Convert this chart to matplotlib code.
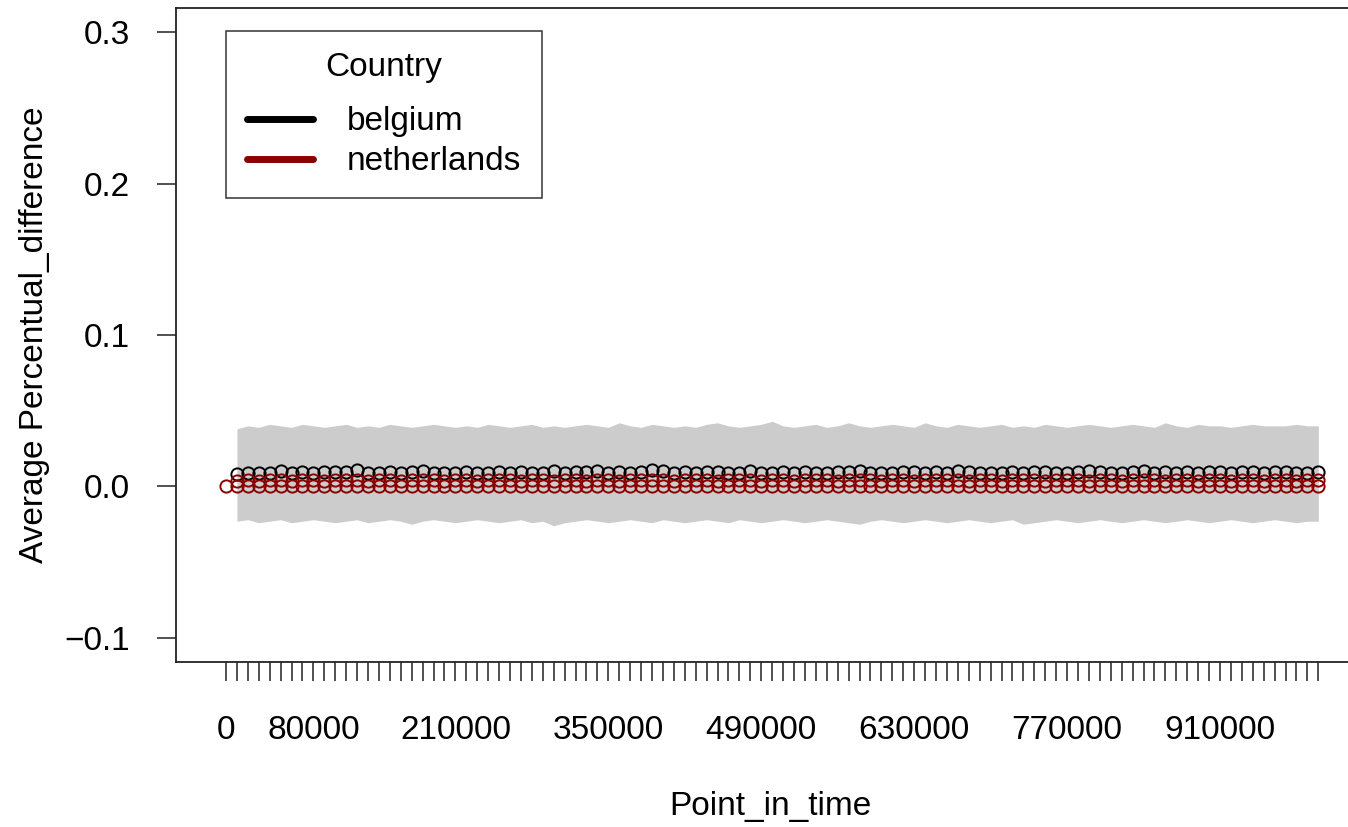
import numpy as np
import matplotlib
matplotlib.use("Agg")
import matplotlib.pyplot as plt
from matplotlib.lines import Line2D

plt.rcParams['font.family'] = ['Liberation Sans', 'DejaVu Sans']

# ---- data ----
time_points = list(range(0, 1000001, 10000))          # 101 points
band_x = time_points[1:]

belgium = [0.0085, 0.0088, 0.0086, 0.0090, 0.0102, 0.0087, 0.0098, 0.0089, 0.0095, 0.0096,
           0.0093, 0.0105, 0.0088, 0.0090, 0.0092, 0.0089, 0.0094, 0.0100, 0.0091, 0.0090,
           0.0088, 0.0092, 0.0090, 0.0089, 0.0093, 0.0091, 0.0096, 0.0090, 0.0088, 0.0099,
           0.0090, 0.0092, 0.0094, 0.0102, 0.0091, 0.0093, 0.0089, 0.0096, 0.0108, 0.0100,
           0.0090, 0.0092, 0.0088, 0.0094, 0.0096, 0.0091, 0.0090, 0.0100, 0.0091, 0.0089,
           0.0093, 0.0090, 0.0092, 0.0091, 0.0089, 0.0093, 0.0092, 0.0100, 0.0091, 0.0090,
           0.0089, 0.0094, 0.0096, 0.0090, 0.0092, 0.0091, 0.0102, 0.0098, 0.0091, 0.0089,
           0.0090, 0.0092, 0.0089, 0.0097, 0.0092, 0.0091, 0.0090, 0.0093, 0.0099, 0.0092,
           0.0091, 0.0090, 0.0094, 0.0101, 0.0091, 0.0092, 0.0089, 0.0096, 0.0090, 0.0093,
           0.0092, 0.0086, 0.0094, 0.0092, 0.0090, 0.0098, 0.0097, 0.0089, 0.0091, 0.0092]

netherlands = [0.0] * 101
netherlands_b = [0.0038, 0.0040, 0.0037, 0.0039, 0.0041, 0.0038, 0.0040, 0.0039, 0.0038, 0.0040,
                 0.0039, 0.0041, 0.0038, 0.0039, 0.0040, 0.0038, 0.0039, 0.0040, 0.0039, 0.0038,
                 0.0040, 0.0039, 0.0038, 0.0040, 0.0039, 0.0041, 0.0038, 0.0039, 0.0040, 0.0038,
                 0.0039, 0.0040, 0.0038, 0.0041, 0.0039, 0.0038, 0.0040, 0.0039, 0.0042, 0.0040,
                 0.0038, 0.0039, 0.0040, 0.0039, 0.0038, 0.0040, 0.0039, 0.0041, 0.0038, 0.0039,
                 0.0040, 0.0038, 0.0039, 0.0040, 0.0039, 0.0038, 0.0040, 0.0041, 0.0039, 0.0038,
                 0.0040, 0.0039, 0.0038, 0.0040, 0.0039, 0.0041, 0.0040, 0.0038, 0.0039, 0.0040,
                 0.0038, 0.0039, 0.0040, 0.0039, 0.0038, 0.0040, 0.0039, 0.0041, 0.0038, 0.0039,
                 0.0040, 0.0038, 0.0039, 0.0040, 0.0039, 0.0038, 0.0040, 0.0039, 0.0038, 0.0040,
                 0.0039, 0.0037, 0.0040, 0.0039, 0.0038, 0.0040, 0.0039, 0.0038, 0.0039, 0.0040]

band_upper = [0.038, 0.040, 0.039, 0.041, 0.040, 0.039, 0.041, 0.040, 0.039, 0.040,
              0.041, 0.039, 0.040, 0.039, 0.041, 0.040, 0.039, 0.040, 0.041, 0.040,
              0.039, 0.040, 0.039, 0.041, 0.040, 0.039, 0.040, 0.041, 0.039, 0.040,
              0.039, 0.040, 0.041, 0.040, 0.039, 0.042, 0.040, 0.039, 0.041, 0.040,
              0.039, 0.040, 0.039, 0.041, 0.042, 0.040, 0.039, 0.040, 0.041, 0.043,
              0.040, 0.039, 0.040, 0.041, 0.039, 0.040, 0.042, 0.040, 0.039, 0.040,
              0.041, 0.040, 0.039, 0.042, 0.040, 0.039, 0.041, 0.040, 0.039, 0.040,
              0.041, 0.039, 0.040, 0.039, 0.041, 0.040, 0.039, 0.040, 0.041, 0.040,
              0.039, 0.040, 0.041, 0.040, 0.039, 0.042, 0.040, 0.039, 0.041, 0.040,
              0.040, 0.039, 0.040, 0.041, 0.040, 0.040, 0.040, 0.041, 0.040, 0.040]

band_lower = [-0.023, -0.022, -0.024, -0.023, -0.022, -0.024, -0.023, -0.022, -0.023, -0.024,
              -0.023, -0.022, -0.024, -0.023, -0.022, -0.023, -0.025, -0.023, -0.022, -0.023,
              -0.024, -0.023, -0.022, -0.023, -0.024, -0.023, -0.022, -0.024, -0.023, -0.026,
              -0.024, -0.023, -0.022, -0.023, -0.024, -0.023, -0.022, -0.023, -0.024, -0.022,
              -0.023, -0.024, -0.023, -0.022, -0.023, -0.024, -0.022, -0.023, -0.024, -0.023,
              -0.022, -0.023, -0.024, -0.023, -0.022, -0.023, -0.024, -0.025, -0.023, -0.022,
              -0.023, -0.024, -0.023, -0.022, -0.023, -0.024, -0.023, -0.022, -0.023, -0.024,
              -0.023, -0.022, -0.025, -0.024, -0.023, -0.022, -0.023, -0.024, -0.023, -0.022,
              -0.023, -0.024, -0.023, -0.022, -0.023, -0.024, -0.023, -0.022, -0.023, -0.024,
              -0.023, -0.022, -0.023, -0.024, -0.023, -0.022, -0.023, -0.024, -0.023, -0.023]

x_tick_labels = {0: "0", 80000: "80000", 210000: "210000", 350000: "350000",
                 490000: "490000", 630000: "630000", 770000: "770000", 910000: "910000"}
y_ticks = [-0.1, 0.0, 0.1, 0.2, 0.3]
countries = ["belgium", "netherlands"]
colors = ["black", "#8B0000"]

# ---- figure ----
W, H = 1348, 827
FS = 24
fig = plt.figure(figsize=(W / 100, H / 100), dpi=100)
left_px, right_px, top_px, bottom_px = 176, 1362, 8, 662
ax = fig.add_axes([left_px / W, 1 - bottom_px / H,
                   (right_px - left_px) / W, (bottom_px - top_px) / H])

ax.fill_between(band_x, band_lower, band_upper, color="#CCCCCC", linewidth=0, zorder=1)

ms = 8.8
ax.plot(band_x, belgium, linestyle="none", marker="o", markersize=ms,
        markerfacecolor="none", markeredgecolor=colors[0], markeredgewidth=1.4, zorder=3)
ax.plot(time_points, netherlands, linestyle="none", marker="o", markersize=ms,
        markerfacecolor="none", markeredgecolor=colors[1], markeredgewidth=1.4, zorder=4)
ax.plot(band_x, netherlands_b, linestyle="none", marker="o", markersize=ms,
        markerfacecolor="none", markeredgecolor=colors[1], markeredgewidth=1.4, zorder=4)

ax.set_xlim(-45800, 1040000)
ax.set_ylim(-0.116, 0.316)

ax.set_xticks(time_points)
ax.set_xticklabels([x_tick_labels.get(t, "") for t in time_points])
ax.set_yticks(y_ticks)
ax.set_yticklabels([f"{v:.1f}".replace("-", "\u2212") for v in y_ticks])

ax.tick_params(axis="both", which="major", length=14, width=1.1, labelsize=FS,
               color="#222222")
ax.tick_params(axis="x", pad=24)
ax.tick_params(axis="y", pad=19)
for s in ax.spines.values():
    s.set_linewidth(1.3)
    s.set_color("#222222")

fig.text(770 / W, 1 - 806 / H, "Point_in_time", ha="center", va="center", fontsize=FS)
fig.text(35 / W, 1 - 335 / H, "Average Percentual_difference", ha="center", va="center",
         rotation=90, fontsize=FS)

# legend
handles = [Line2D([0], [0], color=c, lw=5, solid_capstyle="round") for c in colors]
leg = ax.legend(handles, countries, title="Country", loc="upper left",
                bbox_to_anchor=((226 - left_px) / (right_px - left_px),
                                1 - (31 - top_px) / (bottom_px - top_px)),
                fontsize=FS, title_fontsize=FS, frameon=True, fancybox=False,
                edgecolor="black", handlelength=2.0, handletextpad=1.0,
                borderpad=0.62, labelspacing=0.27, borderaxespad=0)
leg.get_frame().set_linewidth(1.1)
leg._legend_box.sep = 17   # extra space between title and entries (points)

fig.savefig("out.png", dpi=100)
